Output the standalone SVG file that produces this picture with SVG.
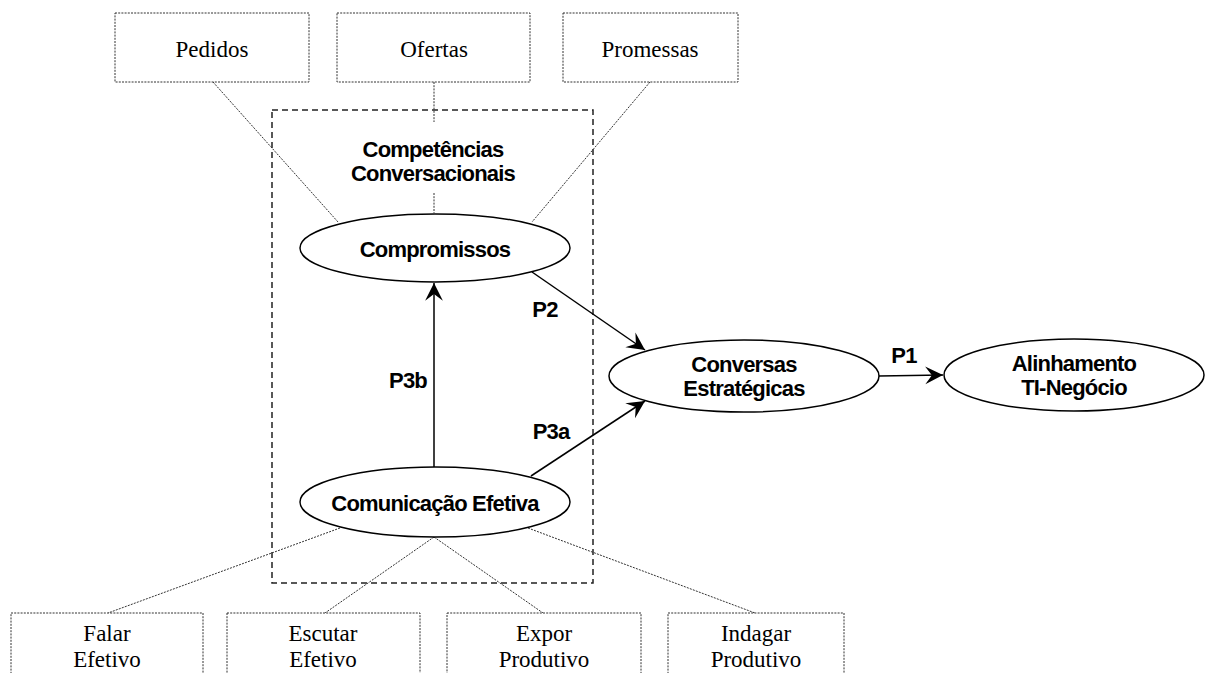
<svg xmlns="http://www.w3.org/2000/svg" width="1206" height="673" viewBox="0 0 1206 673">
<style>
.box{fill:#fff;stroke:#333;stroke-width:1;stroke-dasharray:2,1.2}
.ell{fill:#fff;stroke:#000;stroke-width:1.5}
.cont{fill:none;stroke:#222;stroke-width:1.5;stroke-dasharray:6,4}
.dot{fill:none;stroke:#333;stroke-width:1;stroke-dasharray:2,1.2}
.arr{fill:none;stroke:#000;stroke-width:1.5;marker-end:url(#ah)}
.serif{font-family:"Liberation Serif","Times New Roman",serif;font-size:23px;fill:#000;text-anchor:middle}
.bold{font-family:"Liberation Sans",Arial,sans-serif;font-size:22px;font-weight:bold;fill:#000;text-anchor:middle;letter-spacing:-0.8px}
</style>
<defs>
<marker id="ah" markerUnits="userSpaceOnUse" markerWidth="20" markerHeight="20" viewBox="-17 -9 18 18" refX="0" refY="0" orient="auto">
<path d="M0,0 L-16,-8 L-10,0 L-16,8 Z" fill="#000"/>
</marker>
</defs>
<rect class="cont" x="272" y="110" width="321" height="473"/>
<g id="connectors">
<line class="dot" x1="213" y1="82" x2="338" y2="222"/>
<line class="dot" x1="434" y1="82" x2="434" y2="122"/>
<line class="dot" x1="434" y1="193" x2="434" y2="213"/>
<line class="dot" x1="650" y1="82" x2="532" y2="222"/>
<line class="dot" x1="340" y1="528" x2="108" y2="613"/>
<line class="dot" x1="434" y1="537" x2="325" y2="613"/>
<line class="dot" x1="434" y1="537" x2="543" y2="613"/>
<line class="dot" x1="528" y1="528" x2="755" y2="613"/>
<line class="arr" x1="532" y1="272" x2="645" y2="350"/>
<line class="arr" x1="531" y1="476" x2="645" y2="401"/>
<line class="arr" x1="434" y1="467" x2="434" y2="283"/>
<line class="arr" x1="879" y1="376" x2="943" y2="375"/>
<text class="bold" x="545" y="317">P2</text>
<text class="bold" x="408" y="388">P3b</text>
<text class="bold" x="551" y="439">P3a</text>
<text class="bold" x="904" y="363">P1</text>
</g>
<g id="pedidos"><rect class="box" x="115" y="13" width="194" height="69"/><text class="serif" x="212" y="57">Pedidos</text></g>
<g id="ofertas"><rect class="box" x="337" y="13" width="193" height="69"/><text class="serif" x="434" y="57">Ofertas</text></g>
<g id="promessas"><rect class="box" x="563" y="13" width="175" height="69"/><text class="serif" x="650" y="57">Promessas</text></g>
<g id="competencias"><text class="bold" x="433" y="157">Competências</text><text class="bold" x="433" y="181">Conversacionais</text></g>
<g id="compromissos"><ellipse class="ell" cx="435" cy="248" rx="135" ry="34"/><text class="bold" x="435" y="257">Compromissos</text></g>
<g id="comunicacao"><ellipse class="ell" cx="435" cy="502" rx="135" ry="35"/><text class="bold" x="435" y="511">Comunicação Efetiva</text></g>
<g id="conversas"><ellipse class="ell" cx="744" cy="376" rx="135" ry="36"/><text class="bold" x="744" y="372">Conversas</text><text class="bold" x="744" y="396">Estratégicas</text></g>
<g id="alinhamento"><ellipse class="ell" cx="1074" cy="375" rx="130" ry="36"/><text class="bold" x="1074" y="371">Alinhamento</text><text class="bold" x="1074" y="395">TI-Negócio</text></g>
<g id="falar"><rect class="box" x="11" y="613" width="192" height="80"/><text class="serif" x="107" y="641">Falar</text><text class="serif" x="107" y="667">Efetivo</text></g>
<g id="escutar"><rect class="box" x="227" y="613" width="193" height="80"/><text class="serif" x="323" y="641">Escutar</text><text class="serif" x="323" y="667">Efetivo</text></g>
<g id="expor"><rect class="box" x="447" y="613" width="194" height="80"/><text class="serif" x="544" y="641">Expor</text><text class="serif" x="544" y="667">Produtivo</text></g>
<g id="indagar"><rect class="box" x="668" y="613" width="176" height="80"/><text class="serif" x="756" y="641">Indagar</text><text class="serif" x="756" y="667">Produtivo</text></g>
</svg>
